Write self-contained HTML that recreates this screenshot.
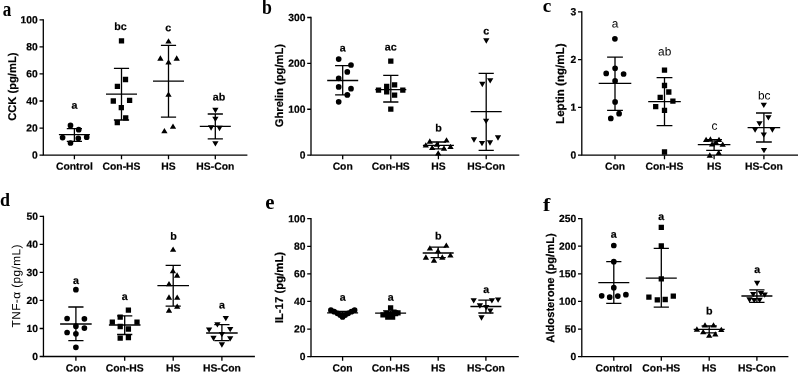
<!DOCTYPE html>
<html><head><meta charset="utf-8"><title>Figure</title>
<style>
html,body{margin:0;padding:0;background:#fff;}
body{width:798px;height:372px;overflow:hidden;font-family:"Liberation Sans",sans-serif;}
svg{display:block;filter:grayscale(1);}
</style></head><body>
<svg width="798" height="372" viewBox="0 0 798 372">
<rect width="798" height="372" fill="#fff"/>
<g>
<text font-family="'Liberation Serif', serif" font-weight="bold" font-size="20" transform="translate(2.79 15.7) scale(0.857 1.05)">a</text>
<path d="M43.3 19.15V155.1H247.4" fill="none" stroke="#000" stroke-width="1.3"/>
<path d="M43.3 155.1H39.5M43.3 128.04H39.5M43.3 100.98H39.5M43.3 73.92H39.5M43.3 46.86H39.5M43.3 19.8H39.5M74.4 155.1V159.3M121.5 155.1V159.3M168.5 155.1V159.3M215.3 155.1V159.3" fill="none" stroke="#000" stroke-width="1.3"/>
<g font-family="'Liberation Sans', sans-serif" font-weight="bold" font-size="10.3" text-anchor="end" stroke="#000" stroke-width="0.2">
<text transform="translate(37.8 158.55) rotate(0.03)">0</text>
<text transform="translate(37.8 131.49) rotate(0.03)">20</text>
<text transform="translate(37.8 104.43) rotate(0.03)">40</text>
<text transform="translate(37.8 77.37) rotate(0.03)">60</text>
<text transform="translate(37.8 50.31) rotate(0.03)">80</text>
<text transform="translate(37.8 23.25) rotate(0.03)">100</text>
</g>
<g font-family="'Liberation Sans', sans-serif" font-weight="bold" font-size="10.35" text-anchor="middle" stroke="#000" stroke-width="0.2">
<text transform="translate(74.4 169.8) rotate(0.03)">Control</text>
<text transform="translate(121.5 169.8) rotate(0.03)">Con-HS</text>
<text transform="translate(168.5 169.8) rotate(0.03)">HS</text>
<text transform="translate(215.3 169.8) rotate(0.03)">HS-Con</text>
</g>
<g font-family="'Liberation Sans', sans-serif" font-weight="bold" font-size="10.7" text-anchor="middle" stroke="#000" stroke-width="0.2">
<text transform="translate(74.4 108.8) rotate(0.03)">a</text>
<text transform="translate(120.5 29.9) rotate(0.03)">bc</text>
<text transform="translate(168.2 31.3) rotate(0.03)">c</text>
<text transform="translate(219 100.5) rotate(0.03)">ab</text>
</g>
<text transform="translate(15.9 86.7) rotate(-90.03)" font-family="'Liberation Sans', sans-serif" font-weight="bold" font-size="11.2" text-anchor="middle" stroke="#000" stroke-width="0.2">CCK (pg/mL)</text>
<path d="M58.9 134.6H89.9M66.8 128.6H82M66.8 141.3H82M74.4 128.6V141.3M106 94.1H137M113.9 68.3H129.1M113.9 120H129.1M121.5 68.3V120M153 81.2H184M160.9 45.3H176.1M160.9 117.1H176.1M168.5 45.3V117.1M199.8 126.4H230.8M207.7 114H222.9M207.7 138.8H222.9M215.3 114V138.8" fill="none" stroke="#000" stroke-width="1.3"/>
<path d="M67.65 125.4a2.85 2.85 0 1 0 5.7 0a2.85 2.85 0 1 0 -5.7 0zM75.85 129.7a2.85 2.85 0 1 0 5.7 0a2.85 2.85 0 1 0 -5.7 0zM59.75 137.6a2.85 2.85 0 1 0 5.7 0a2.85 2.85 0 1 0 -5.7 0zM75.45 138.3a2.85 2.85 0 1 0 5.7 0a2.85 2.85 0 1 0 -5.7 0zM83.85 137.2a2.85 2.85 0 1 0 5.7 0a2.85 2.85 0 1 0 -5.7 0zM67.65 143a2.85 2.85 0 1 0 5.7 0a2.85 2.85 0 1 0 -5.7 0z" fill="#000"/>
<path d="M118.85 38.15h5.3v5.3h-5.3zM122.85 76.85h5.3v5.3h-5.3zM114.75 83.65h5.3v5.3h-5.3zM110.65 98.35h5.3v5.3h-5.3zM126.95 97.65h5.3v5.3h-5.3zM118.65 104.95h5.3v5.3h-5.3zM123.05 115.15h5.3v5.3h-5.3zM114.65 119.95h5.3v5.3h-5.3z" fill="#000"/>
<path d="M168.5 38.15L171.65 43.45L165.35 43.45zM160.4 55.35L163.55 60.65L157.25 60.65zM176.7 55.35L179.85 60.65L173.55 60.65zM168.5 59.15L171.65 64.45L165.35 64.45zM168.5 91.55L171.65 96.85L165.35 96.85zM173 123.45L176.15 128.75L169.85 128.75zM164.4 128.05L167.55 133.35L161.25 133.35z" fill="#000"/>
<path d="M215.4 113.15L218.55 107.85L212.25 107.85zM215.4 122.05L218.55 116.75L212.25 116.75zM211.1 130.65L214.25 125.35L207.95 125.35zM219.5 131.15L222.65 125.85L216.35 125.85zM215.4 146.55L218.55 141.25L212.25 141.25z" fill="#000"/>
</g>
<g>
<text font-family="'Liberation Serif', serif" font-weight="bold" font-size="20" transform="translate(262.03 13.6) scale(0.89 1.0)">b</text>
<path d="M311 16.85V155.1H519.3" fill="none" stroke="#000" stroke-width="1.3"/>
<path d="M311 155.1H307.2M311 109.23H307.2M311 63.37H307.2M311 17.5H307.2M342.7 155.1V159.3M390.8 155.1V159.3M438.4 155.1V159.3M486.2 155.1V159.3" fill="none" stroke="#000" stroke-width="1.3"/>
<g font-family="'Liberation Sans', sans-serif" font-weight="bold" font-size="10.3" text-anchor="end" stroke="#000" stroke-width="0.2">
<text transform="translate(305.5 158.55) rotate(0.03)">0</text>
<text transform="translate(305.5 112.68) rotate(0.03)">100</text>
<text transform="translate(305.5 66.82) rotate(0.03)">200</text>
<text transform="translate(305.5 20.95) rotate(0.03)">300</text>
</g>
<g font-family="'Liberation Sans', sans-serif" font-weight="bold" font-size="10.35" text-anchor="middle" stroke="#000" stroke-width="0.2">
<text transform="translate(342.7 169.8) rotate(0.03)">Con</text>
<text transform="translate(390.8 169.8) rotate(0.03)">Con-HS</text>
<text transform="translate(438.4 169.8) rotate(0.03)">HS</text>
<text transform="translate(486.2 169.8) rotate(0.03)">HS-Con</text>
</g>
<g font-family="'Liberation Sans', sans-serif" font-weight="bold" font-size="10.7" text-anchor="middle" stroke="#000" stroke-width="0.2">
<text transform="translate(342.6 51.5) rotate(0.03)">a</text>
<text transform="translate(390.8 50.5) rotate(0.03)">ac</text>
<text transform="translate(438.6 131.5) rotate(0.03)">b</text>
<text transform="translate(486.3 34.4) rotate(0.03)">c</text>
</g>
<text transform="translate(283.1 85.6) rotate(-90.03)" font-family="'Liberation Sans', sans-serif" font-weight="bold" font-size="11.2" text-anchor="middle" stroke="#000" stroke-width="0.2">Ghrelin (pg/mL)</text>
<path d="M327.2 80.5H358.2M335.1 65.7H350.3M335.1 94.9H350.3M342.7 65.7V94.9M375.3 89.7H406.3M383.2 75.3H398.4M383.2 102H398.4M390.8 75.3V102M422.9 145.3H453.9M430.8 142H446M430.8 148.8H446M438.4 142V148.8M470.7 111.7H501.7M478.6 73.3H493.8M478.6 150.3H493.8M486.2 73.3V150.3" fill="none" stroke="#000" stroke-width="1.3"/>
<path d="M335.85 59.1a2.85 2.85 0 1 0 5.7 0a2.85 2.85 0 1 0 -5.7 0zM348.15 65a2.85 2.85 0 1 0 5.7 0a2.85 2.85 0 1 0 -5.7 0zM344.45 71.9a2.85 2.85 0 1 0 5.7 0a2.85 2.85 0 1 0 -5.7 0zM335.85 78.3a2.85 2.85 0 1 0 5.7 0a2.85 2.85 0 1 0 -5.7 0zM335.85 86.9a2.85 2.85 0 1 0 5.7 0a2.85 2.85 0 1 0 -5.7 0zM348.15 88.7a2.85 2.85 0 1 0 5.7 0a2.85 2.85 0 1 0 -5.7 0zM344.45 94.9a2.85 2.85 0 1 0 5.7 0a2.85 2.85 0 1 0 -5.7 0zM335.85 101.8a2.85 2.85 0 1 0 5.7 0a2.85 2.85 0 1 0 -5.7 0z" fill="#000"/>
<path d="M388.15 58.45h5.3v5.3h-5.3zM391.95 82.15h5.3v5.3h-5.3zM384.05 83.65h5.3v5.3h-5.3zM375.85 87.55h5.3v5.3h-5.3zM400.15 87.55h5.3v5.3h-5.3zM384.05 89.25h5.3v5.3h-5.3zM391.95 92.45h5.3v5.3h-5.3zM388.15 106.45h5.3v5.3h-5.3z" fill="#000"/>
<path d="M429.8 138.35L432.95 143.65L426.65 143.65zM446.5 137.25L449.65 142.55L443.35 142.55zM425.8 142.25L428.95 147.55L422.65 147.55zM450.5 143.65L453.65 148.95L447.35 148.95zM432.2 144.75L435.35 150.05L429.05 150.05zM444 145.35L447.15 150.65L440.85 150.65zM438.2 150.15L441.35 155.45L435.05 155.45zM437 141.35L440.15 146.65L433.85 146.65z" fill="#000"/>
<path d="M486.3 43.65L489.45 38.35L483.15 38.35zM490.2 83.55L493.35 78.25L487.05 78.25zM482.3 87.15L485.45 81.85L479.15 81.85zM486.1 123.95L489.25 118.65L482.95 118.65zM498 140.65L501.15 135.35L494.85 135.35zM474 142.65L477.15 137.35L470.85 137.35zM482 146.35L485.15 141.05L478.85 141.05zM490 145.65L493.15 140.35L486.85 140.35z" fill="#000"/>
</g>
<g>
<text font-family="'Liberation Serif', serif" font-weight="bold" font-size="20" transform="translate(542.73 11.6) scale(0.96 0.99)">c</text>
<path d="M581.8 11.25V155.15H798" fill="none" stroke="#000" stroke-width="1.3"/>
<path d="M581.8 155.15H578M581.8 107.4H578M581.8 59.65H578M581.8 11.9H578M615 155.15V159.35M664.5 155.15V159.35M714.1 155.15V159.35M763.9 155.15V159.35" fill="none" stroke="#000" stroke-width="1.3"/>
<g font-family="'Liberation Sans', sans-serif" font-weight="bold" font-size="10.3" text-anchor="end" stroke="#000" stroke-width="0.2">
<text transform="translate(576.3 158.6) rotate(0.03)">0</text>
<text transform="translate(576.3 110.85) rotate(0.03)">1</text>
<text transform="translate(576.3 63.1) rotate(0.03)">2</text>
<text transform="translate(576.3 15.35) rotate(0.03)">3</text>
</g>
<g font-family="'Liberation Sans', sans-serif" font-weight="bold" font-size="10.35" text-anchor="middle" stroke="#000" stroke-width="0.2">
<text transform="translate(615 169.8) rotate(0.03)">Con</text>
<text transform="translate(664.5 169.8) rotate(0.03)">Con-HS</text>
<text transform="translate(714.1 169.8) rotate(0.03)">HS</text>
<text transform="translate(763.9 169.8) rotate(0.03)">HS-Con</text>
</g>
<g font-family="'Liberation Sans', sans-serif" font-weight="normal" font-size="11.9" text-anchor="middle">
<text transform="translate(615 27.5) rotate(0.03)">a</text>
<text transform="translate(664.7 55.6) rotate(0.03)">ab</text>
<text transform="translate(714.4 129.8) rotate(0.03)">c</text>
<text transform="translate(764.2 99.5) rotate(0.03)">bc</text>
</g>
<text transform="translate(563.9 83.7) rotate(-90.03)" font-family="'Liberation Sans', sans-serif" font-weight="bold" font-size="11.6" text-anchor="middle" stroke="#000" stroke-width="0.2">Leptin (ng/mL)</text>
<path d="M598.7 83.4H631.3M607.1 57.2H622.9M607.1 110.3H622.9M615 57.2V110.3M648.2 101.7H680.8M656.6 77.6H672.4M656.6 125.6H672.4M664.5 77.6V125.6M697.8 144.7H730.4M706.2 139.6H722M706.2 150.3H722M714.1 139.6V150.3M747.6 127.7H780.2M756 113H771.8M756 142H771.8M763.9 113V142" fill="none" stroke="#000" stroke-width="1.3"/>
<path d="M612.05 38.8a2.85 2.85 0 1 0 5.7 0a2.85 2.85 0 1 0 -5.7 0zM612.25 68.3a2.85 2.85 0 1 0 5.7 0a2.85 2.85 0 1 0 -5.7 0zM603.35 73.4a2.85 2.85 0 1 0 5.7 0a2.85 2.85 0 1 0 -5.7 0zM620.75 74a2.85 2.85 0 1 0 5.7 0a2.85 2.85 0 1 0 -5.7 0zM612.25 80.9a2.85 2.85 0 1 0 5.7 0a2.85 2.85 0 1 0 -5.7 0zM612.25 101.9a2.85 2.85 0 1 0 5.7 0a2.85 2.85 0 1 0 -5.7 0zM616.25 113.7a2.85 2.85 0 1 0 5.7 0a2.85 2.85 0 1 0 -5.7 0zM607.95 118.4a2.85 2.85 0 1 0 5.7 0a2.85 2.85 0 1 0 -5.7 0z" fill="#000"/>
<path d="M661.85 67.45h5.3v5.3h-5.3zM661.85 82.85h5.3v5.3h-5.3zM666.15 89.35h5.3v5.3h-5.3zM657.55 94.75h5.3v5.3h-5.3zM670.25 98.55h5.3v5.3h-5.3zM653.05 103.95h5.3v5.3h-5.3zM661.85 107.65h5.3v5.3h-5.3zM661.85 149.35h5.3v5.3h-5.3z" fill="#000"/>
<path d="M706.1 136.75L709.25 142.05L702.95 142.05zM710.4 136.35L713.55 141.65L707.25 141.65zM719 136.75L722.15 142.05L715.85 142.05zM712.1 141.25L715.25 146.55L708.95 146.55zM716 139.35L719.15 144.65L712.85 144.65zM722.7 141.55L725.85 146.85L719.55 146.85zM718.7 149.65L721.85 154.95L715.55 154.95zM709.8 152.35L712.95 157.65L706.65 157.65z" fill="#000"/>
<path d="M763.8 107.95L766.95 102.65L760.65 102.65zM768.4 120.45L771.55 115.15L765.25 115.15zM759.5 126.45L762.65 121.15L756.35 121.15zM755.1 132.85L758.25 127.55L751.95 127.55zM772.4 132.65L775.55 127.35L769.25 127.35zM763.8 137.85L766.95 132.55L760.65 132.55zM764 153.35L767.15 148.05L760.85 148.05z" fill="#000"/>
</g>
<g>
<text font-family="'Liberation Serif', serif" font-weight="bold" font-size="20" transform="translate(0.1 205.5) scale(0.9 0.95)">d</text>
<path d="M43.45 215.75V356.5H254.9" fill="none" stroke="#000" stroke-width="1.3"/>
<path d="M43.45 356.5H39.65M43.45 328.48H39.65M43.45 300.46H39.65M43.45 272.44H39.65M43.45 244.42H39.65M43.45 216.4H39.65M75.9 356.5V360.7M124.7 356.5V360.7M173.2 356.5V360.7M221.9 356.5V360.7" fill="none" stroke="#000" stroke-width="1.3"/>
<g font-family="'Liberation Sans', sans-serif" font-weight="bold" font-size="10.3" text-anchor="end" stroke="#000" stroke-width="0.2">
<text transform="translate(37.95 359.95) rotate(0.03)">0</text>
<text transform="translate(37.95 331.93) rotate(0.03)">10</text>
<text transform="translate(37.95 303.91) rotate(0.03)">20</text>
<text transform="translate(37.95 275.89) rotate(0.03)">30</text>
<text transform="translate(37.95 247.87) rotate(0.03)">40</text>
<text transform="translate(37.95 219.85) rotate(0.03)">50</text>
</g>
<g font-family="'Liberation Sans', sans-serif" font-weight="bold" font-size="10.35" text-anchor="middle" stroke="#000" stroke-width="0.2">
<text transform="translate(75.9 371.4) rotate(0.03)">Con</text>
<text transform="translate(124.7 371.4) rotate(0.03)">Con-HS</text>
<text transform="translate(173.2 371.4) rotate(0.03)">HS</text>
<text transform="translate(221.9 371.4) rotate(0.03)">HS-Con</text>
</g>
<g font-family="'Liberation Sans', sans-serif" font-weight="bold" font-size="10.7" text-anchor="middle" stroke="#000" stroke-width="0.2">
<text transform="translate(75.9 284) rotate(0.03)">a</text>
<text transform="translate(124.7 300) rotate(0.03)">a</text>
<text transform="translate(173.4 239.8) rotate(0.03)">b</text>
<text transform="translate(221.9 308.4) rotate(0.03)">a</text>
</g>
<text transform="translate(20.2 285.8) rotate(-90.03)" font-family="'Liberation Sans', sans-serif" font-weight="normal" font-size="11.9" text-anchor="middle" letter-spacing="0.4">TNF-α (pg/mL)</text>
<path d="M60.1 324H91.7M68.3 307H83.5M68.3 340.7H83.5M75.9 307V340.7M108.9 325H140.5M117.1 315.9H132.3M117.1 334.5H132.3M124.7 315.9V334.5M157.4 285.7H189M165.6 265.3H180.8M165.6 306.1H180.8M173.2 265.3V306.1M206.1 333H237.7M214.3 324.6H229.5M214.3 340.7H229.5M221.9 324.6V340.7" fill="none" stroke="#000" stroke-width="1.3"/>
<path d="M73.05 289.7a2.85 2.85 0 1 0 5.7 0a2.85 2.85 0 1 0 -5.7 0zM64.25 318.5a2.85 2.85 0 1 0 5.7 0a2.85 2.85 0 1 0 -5.7 0zM81.55 318.8a2.85 2.85 0 1 0 5.7 0a2.85 2.85 0 1 0 -5.7 0zM73.05 326.2a2.85 2.85 0 1 0 5.7 0a2.85 2.85 0 1 0 -5.7 0zM81.55 328.1a2.85 2.85 0 1 0 5.7 0a2.85 2.85 0 1 0 -5.7 0zM64.25 332.5a2.85 2.85 0 1 0 5.7 0a2.85 2.85 0 1 0 -5.7 0zM73.05 333.8a2.85 2.85 0 1 0 5.7 0a2.85 2.85 0 1 0 -5.7 0zM73.05 347.3a2.85 2.85 0 1 0 5.7 0a2.85 2.85 0 1 0 -5.7 0z" fill="#000"/>
<path d="M125.75 307.55h5.3v5.3h-5.3zM117.55 314.45h5.3v5.3h-5.3zM109.65 319.45h5.3v5.3h-5.3zM134.35 319.45h5.3v5.3h-5.3zM117.55 323.85h5.3v5.3h-5.3zM125.75 326.35h5.3v5.3h-5.3zM117.55 335.55h5.3v5.3h-5.3zM125.75 335.05h5.3v5.3h-5.3z" fill="#000"/>
<path d="M173.1 246.55L176.25 251.85L169.95 251.85zM172.9 268.05L176.05 273.35L169.75 273.35zM177.1 272.35L180.25 277.65L173.95 277.65zM169 280.95L172.15 286.25L165.85 286.25zM169 294.35L172.15 299.65L165.85 299.65zM177.2 294.55L180.35 299.85L174.05 299.85zM177.2 303.45L180.35 308.75L174.05 308.75zM169 307.35L172.15 312.65L165.85 312.65z" fill="#000"/>
<path d="M225.8 321.25L228.95 315.95L222.65 315.95zM217.4 327.45L220.55 322.15L214.25 322.15zM209.1 332.75L212.25 327.45L205.95 327.45zM230.2 332.25L233.35 326.95L227.05 326.95zM221.9 337.35L225.05 332.05L218.75 332.05zM213.5 341.15L216.65 335.85L210.35 335.85zM230.2 341.55L233.35 336.25L227.05 336.25zM221.9 347.65L225.05 342.35L218.75 342.35z" fill="#000"/>
</g>
<g>
<text font-family="'Liberation Serif', serif" font-weight="bold" font-size="20" transform="translate(265.32 208.85) scale(1.04 1.0)">e</text>
<path d="M311 218.05V356.65H518.8" fill="none" stroke="#000" stroke-width="1.3"/>
<path d="M311 356.65H307.2M311 329.06H307.2M311 301.47H307.2M311 273.88H307.2M311 246.29H307.2M311 218.7H307.2M342.6 356.65V360.85M390.6 356.65V360.85M438.2 356.65V360.85M485.9 356.65V360.85" fill="none" stroke="#000" stroke-width="1.3"/>
<g font-family="'Liberation Sans', sans-serif" font-weight="bold" font-size="10.3" text-anchor="end" stroke="#000" stroke-width="0.2">
<text transform="translate(305.5 360.1) rotate(0.03)">0</text>
<text transform="translate(305.5 332.51) rotate(0.03)">20</text>
<text transform="translate(305.5 304.92) rotate(0.03)">40</text>
<text transform="translate(305.5 277.33) rotate(0.03)">60</text>
<text transform="translate(305.5 249.74) rotate(0.03)">80</text>
<text transform="translate(305.5 222.15) rotate(0.03)">100</text>
</g>
<g font-family="'Liberation Sans', sans-serif" font-weight="bold" font-size="10.35" text-anchor="middle" stroke="#000" stroke-width="0.2">
<text transform="translate(342.6 371.4) rotate(0.03)">Con</text>
<text transform="translate(390.6 371.4) rotate(0.03)">Con-HS</text>
<text transform="translate(438.2 371.4) rotate(0.03)">HS</text>
<text transform="translate(485.9 371.4) rotate(0.03)">HS-Con</text>
</g>
<g font-family="'Liberation Sans', sans-serif" font-weight="bold" font-size="10.7" text-anchor="middle" stroke="#000" stroke-width="0.2">
<text transform="translate(342.6 300.8) rotate(0.03)">a</text>
<text transform="translate(390.6 300.8) rotate(0.03)">a</text>
<text transform="translate(438.3 239.4) rotate(0.03)">b</text>
<text transform="translate(486.2 293.1) rotate(0.03)">a</text>
</g>
<text transform="translate(283.1 287.6) rotate(-90.03)" font-family="'Liberation Sans', sans-serif" font-weight="bold" font-size="11.4" text-anchor="middle" stroke="#000" stroke-width="0.2">IL-17 (pg/mL)</text>
<path d="M327.1 312.9H358.1M335 311.4H350.2M335 314.4H350.2M342.6 311.4V314.4M375.1 313.2H406.1M383 310.8H398.2M383 315.6H398.2M390.6 310.8V315.6M422.7 253H453.7M430.6 247.2H445.8M430.6 257.7H445.8M438.2 247.2V257.7M470.4 306.5H501.4M478.3 300.2H493.5M478.3 313H493.5M485.9 300.2V313" fill="none" stroke="#000" stroke-width="1.3"/>
<path d="M328.05 310.2a2.85 2.85 0 1 0 5.7 0a2.85 2.85 0 1 0 -5.7 0zM331.35 311.7a2.85 2.85 0 1 0 5.7 0a2.85 2.85 0 1 0 -5.7 0zM334.55 313.3a2.85 2.85 0 1 0 5.7 0a2.85 2.85 0 1 0 -5.7 0zM337.35 315.1a2.85 2.85 0 1 0 5.7 0a2.85 2.85 0 1 0 -5.7 0zM339.75 316.9a2.85 2.85 0 1 0 5.7 0a2.85 2.85 0 1 0 -5.7 0zM342.35 315.1a2.85 2.85 0 1 0 5.7 0a2.85 2.85 0 1 0 -5.7 0zM345.35 313.3a2.85 2.85 0 1 0 5.7 0a2.85 2.85 0 1 0 -5.7 0zM348.55 311.7a2.85 2.85 0 1 0 5.7 0a2.85 2.85 0 1 0 -5.7 0zM351.75 310.2a2.85 2.85 0 1 0 5.7 0a2.85 2.85 0 1 0 -5.7 0z" fill="#000"/>
<path d="M387.95 305.15h5.3v5.3h-5.3zM380.35 312.15h5.3v5.3h-5.3zM384.15 310.65h5.3v5.3h-5.3zM391.35 309.55h5.3v5.3h-5.3zM395.35 310.15h5.3v5.3h-5.3zM385.15 314.35h5.3v5.3h-5.3zM389.95 314.35h5.3v5.3h-5.3zM387.95 311.85h5.3v5.3h-5.3z" fill="#000"/>
<path d="M446.3 242.55L449.45 247.85L443.15 247.85zM429.9 245.25L433.05 250.55L426.75 250.55zM438 247.95L441.15 253.25L434.85 253.25zM450.4 252.25L453.55 257.55L447.25 257.55zM425.9 254.35L429.05 259.65L422.75 259.65zM442.3 254.35L445.45 259.65L439.15 259.65zM434 257.35L437.15 262.65L430.85 262.65z" fill="#000"/>
<path d="M473.7 303.55L476.85 298.25L470.55 298.25zM491.9 303.55L495.05 298.25L488.75 298.25zM498.1 302.85L501.25 297.55L494.95 297.55zM479.9 308.65L483.05 303.35L476.75 303.35zM486.2 310.25L489.35 304.95L483.05 304.95zM490.3 313.85L493.45 308.55L487.15 308.55zM481.5 320.65L484.65 315.35L478.35 315.35z" fill="#000"/>
</g>
<g>
<text font-family="'Liberation Serif', serif" font-weight="bold" font-size="20" transform="translate(543.1 211.2) scale(1.1 0.96)">f</text>
<path d="M581.8 217.95V356.65H788.4" fill="none" stroke="#000" stroke-width="1.3"/>
<path d="M581.8 356.65H578M581.8 329.04H578M581.8 301.43H578M581.8 273.82H578M581.8 246.21H578M581.8 218.6H578M613.8 356.65V360.85M661.3 356.65V360.85M709.2 356.65V360.85M756.9 356.65V360.85" fill="none" stroke="#000" stroke-width="1.3"/>
<g font-family="'Liberation Sans', sans-serif" font-weight="bold" font-size="10.3" text-anchor="end" stroke="#000" stroke-width="0.2">
<text transform="translate(576.3 360.1) rotate(0.03)">0</text>
<text transform="translate(576.3 332.49) rotate(0.03)">50</text>
<text transform="translate(576.3 304.88) rotate(0.03)">100</text>
<text transform="translate(576.3 277.27) rotate(0.03)">150</text>
<text transform="translate(576.3 249.66) rotate(0.03)">200</text>
<text transform="translate(576.3 222.05) rotate(0.03)">250</text>
</g>
<g font-family="'Liberation Sans', sans-serif" font-weight="bold" font-size="10.35" text-anchor="middle" stroke="#000" stroke-width="0.2">
<text transform="translate(613.8 371.4) rotate(0.03)">Control</text>
<text transform="translate(661.3 371.4) rotate(0.03)">Con-HS</text>
<text transform="translate(709.2 371.4) rotate(0.03)">HS</text>
<text transform="translate(756.9 371.4) rotate(0.03)">HS-Con</text>
</g>
<g font-family="'Liberation Sans', sans-serif" font-weight="bold" font-size="10.7" text-anchor="middle" stroke="#000" stroke-width="0.2">
<text transform="translate(613.8 237.7) rotate(0.03)">a</text>
<text transform="translate(661.3 220.1) rotate(0.03)">a</text>
<text transform="translate(709.2 314.6) rotate(0.03)">b</text>
<text transform="translate(757.3 273.1) rotate(0.03)">a</text>
</g>
<text transform="translate(554.1 288) rotate(-90.03)" font-family="'Liberation Sans', sans-serif" font-weight="bold" font-size="11.2" text-anchor="middle" stroke="#000" stroke-width="0.2">Aldosterone (pg/mL)</text>
<path d="M598.3 282.6H629.3M606.2 261.7H621.4M606.2 303.3H621.4M613.8 261.7V303.3M645.8 278.2H676.8M653.7 248.3H668.9M653.7 307.2H668.9M661.3 248.3V307.2M693.7 329.4H724.7M701.6 326H716.8M701.6 332.9H716.8M709.2 326V332.9M741.4 296H772.4M749.3 289.8H764.5M749.3 302.3H764.5M756.9 289.8V302.3" fill="none" stroke="#000" stroke-width="1.3"/>
<path d="M610.95 245.5a2.85 2.85 0 1 0 5.7 0a2.85 2.85 0 1 0 -5.7 0zM610.95 261.7a2.85 2.85 0 1 0 5.7 0a2.85 2.85 0 1 0 -5.7 0zM610.95 287.7a2.85 2.85 0 1 0 5.7 0a2.85 2.85 0 1 0 -5.7 0zM598.85 295.8a2.85 2.85 0 1 0 5.7 0a2.85 2.85 0 1 0 -5.7 0zM606.85 297.2a2.85 2.85 0 1 0 5.7 0a2.85 2.85 0 1 0 -5.7 0zM614.95 296.1a2.85 2.85 0 1 0 5.7 0a2.85 2.85 0 1 0 -5.7 0zM623.05 294.7a2.85 2.85 0 1 0 5.7 0a2.85 2.85 0 1 0 -5.7 0z" fill="#000"/>
<path d="M658.65 224.65h5.3v5.3h-5.3zM658.65 243.15h5.3v5.3h-5.3zM658.65 276.15h5.3v5.3h-5.3zM646.25 294.45h5.3v5.3h-5.3zM654.65 297.25h5.3v5.3h-5.3zM662.55 296.85h5.3v5.3h-5.3zM670.65 293.55h5.3v5.3h-5.3z" fill="#000"/>
<path d="M705 322.15L708.15 327.45L701.85 327.45zM713.5 322.15L716.65 327.45L710.35 327.45zM696.9 326.35L700.05 331.65L693.75 331.65zM721.3 326.75L724.45 332.05L718.15 332.05zM703.2 329.05L706.35 334.35L700.05 334.35zM715.3 331.25L718.45 336.55L712.15 336.55zM709.2 332.45L712.35 337.75L706.05 337.75z" fill="#000"/>
<path d="M757.1 286.15L760.25 280.85L753.95 280.85zM753.2 297.35L756.35 292.05L750.05 292.05zM760.9 296.25L764.05 290.95L757.75 290.95zM764.7 297.85L767.85 292.55L761.55 292.55zM749.5 302.65L752.65 297.35L746.35 297.35zM754.2 303.25L757.35 297.95L751.05 297.95zM759.6 302.95L762.75 297.65L756.45 297.65z" fill="#000"/>
</g>
</svg>
</body></html>
